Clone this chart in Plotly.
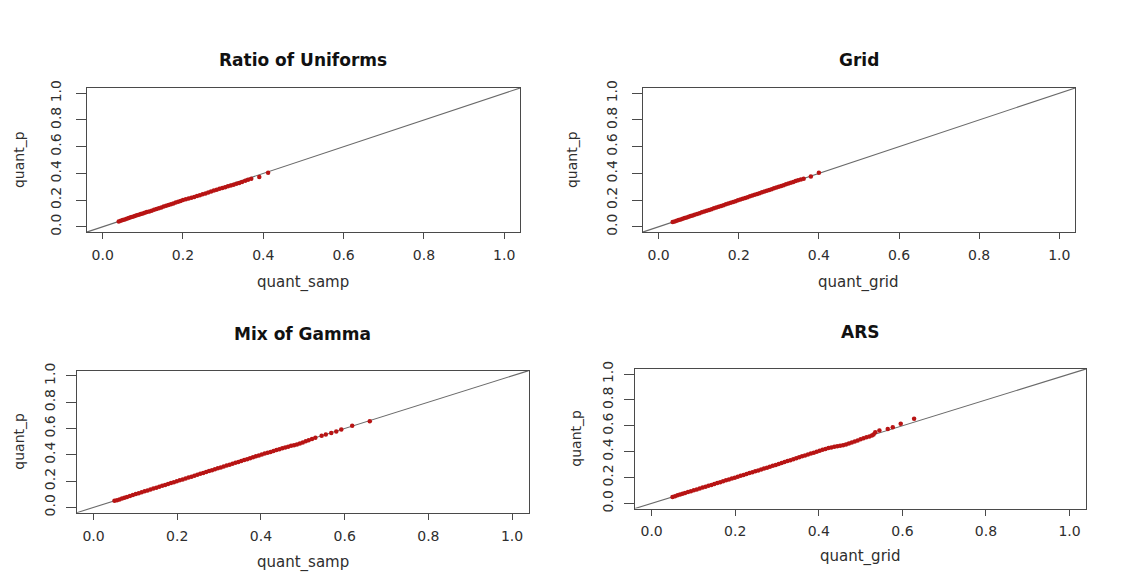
import plotly.graph_objects as go

# ---------------- data ----------------
titles = ["Ratio of Uniforms", "Grid", "Mix of Gamma", "ARS"]
xlabels = ["quant_samp", "quant_grid", "quant_samp", "quant_grid"]
ylabel = "quant_p"
tick_vals = [0.0, 0.2, 0.4, 0.6, 0.8, 1.0]

ru_x = [0.040, 0.045, 0.050, 0.055, 0.060, 0.065, 0.070, 0.075, 0.080, 0.085,
        0.090, 0.095, 0.100, 0.105, 0.110, 0.116, 0.122, 0.128, 0.134, 0.140,
        0.146, 0.152, 0.158, 0.164, 0.170, 0.176, 0.182, 0.188, 0.194, 0.200,
        0.207, 0.214, 0.221, 0.228, 0.235, 0.242, 0.249, 0.256, 0.263, 0.270,
        0.277, 0.284, 0.291, 0.298, 0.305, 0.312, 0.319, 0.326, 0.333, 0.340,
        0.347, 0.355, 0.362, 0.370, 0.390, 0.412]
ru_y = [0.040, 0.046, 0.050, 0.054, 0.060, 0.066, 0.071, 0.076, 0.081, 0.086,
        0.091, 0.096, 0.100, 0.105, 0.110, 0.115, 0.121, 0.127, 0.133, 0.139,
        0.145, 0.151, 0.157, 0.163, 0.169, 0.175, 0.181, 0.187, 0.193, 0.200,
        0.206, 0.212, 0.218, 0.224, 0.231, 0.237, 0.244, 0.250, 0.257, 0.264,
        0.271, 0.278, 0.284, 0.290, 0.297, 0.303, 0.309, 0.315, 0.322, 0.328,
        0.335, 0.345, 0.352, 0.360, 0.372, 0.405]

grid_x = [0.035, 0.040, 0.045, 0.050, 0.055, 0.060, 0.065, 0.070, 0.075, 0.080,
          0.085, 0.090, 0.096, 0.102, 0.108, 0.114, 0.120, 0.126, 0.132, 0.138,
          0.144, 0.150, 0.156, 0.162, 0.168, 0.174, 0.180, 0.186, 0.192, 0.198,
          0.204, 0.210, 0.216, 0.222, 0.228, 0.234, 0.240, 0.246, 0.252, 0.258,
          0.264, 0.270, 0.276, 0.282, 0.288, 0.294, 0.300, 0.306, 0.312, 0.318,
          0.324, 0.330, 0.336, 0.342, 0.348, 0.355, 0.362, 0.380, 0.400]
grid_y = [0.035, 0.040, 0.045, 0.050, 0.055, 0.060, 0.065, 0.070, 0.075, 0.080,
          0.085, 0.090, 0.096, 0.102, 0.108, 0.114, 0.120, 0.126, 0.132, 0.138,
          0.144, 0.150, 0.156, 0.162, 0.168, 0.174, 0.180, 0.186, 0.192, 0.198,
          0.204, 0.210, 0.216, 0.222, 0.228, 0.234, 0.240, 0.246, 0.252, 0.258,
          0.264, 0.270, 0.276, 0.282, 0.288, 0.294, 0.300, 0.306, 0.312, 0.318,
          0.324, 0.330, 0.336, 0.342, 0.348, 0.354, 0.360, 0.376, 0.405]

mg_x = [0.050, 0.056, 0.062, 0.068, 0.074, 0.080, 0.087, 0.094, 0.101, 0.108,
        0.115, 0.122, 0.129, 0.136, 0.143, 0.150, 0.157, 0.164, 0.171, 0.178,
        0.185, 0.192, 0.199, 0.206, 0.213, 0.220, 0.227, 0.234, 0.241, 0.248,
        0.255, 0.262, 0.269, 0.276, 0.283, 0.290, 0.297, 0.304, 0.311, 0.318,
        0.325, 0.332, 0.339, 0.346, 0.353, 0.360, 0.367, 0.374, 0.381, 0.388,
        0.395, 0.402, 0.409, 0.416, 0.423, 0.430, 0.437, 0.444, 0.451, 0.458,
        0.465, 0.472, 0.479, 0.486, 0.493, 0.500, 0.507, 0.514, 0.522, 0.530,
        0.545, 0.555, 0.568, 0.580, 0.592, 0.618, 0.660]
mg_y = [0.050, 0.055, 0.061, 0.067, 0.074, 0.080, 0.087, 0.094, 0.101, 0.108,
        0.115, 0.122, 0.129, 0.136, 0.143, 0.150, 0.157, 0.164, 0.171, 0.178,
        0.185, 0.192, 0.199, 0.206, 0.213, 0.220, 0.227, 0.234, 0.241, 0.248,
        0.255, 0.262, 0.269, 0.276, 0.283, 0.290, 0.297, 0.304, 0.311, 0.318,
        0.325, 0.332, 0.339, 0.346, 0.353, 0.360, 0.367, 0.374, 0.381, 0.388,
        0.395, 0.402, 0.409, 0.416, 0.422, 0.429, 0.436, 0.443, 0.450, 0.456,
        0.462, 0.468, 0.473, 0.478, 0.486, 0.494, 0.503, 0.511, 0.520, 0.529,
        0.544, 0.554, 0.565, 0.578, 0.593, 0.620, 0.655]

ars_x = [0.050, 0.056, 0.062, 0.068, 0.074, 0.080, 0.087, 0.094, 0.101, 0.108,
         0.115, 0.122, 0.129, 0.136, 0.143, 0.150, 0.157, 0.164, 0.171, 0.178,
         0.185, 0.192, 0.199, 0.206, 0.213, 0.220, 0.227, 0.234, 0.241, 0.248,
         0.255, 0.262, 0.269, 0.276, 0.283, 0.290, 0.297, 0.304, 0.311, 0.318,
         0.325, 0.332, 0.339, 0.346, 0.353, 0.360, 0.367, 0.374, 0.381, 0.388,
         0.395, 0.402, 0.409, 0.416, 0.423, 0.430, 0.437, 0.444, 0.451, 0.458,
         0.465, 0.472, 0.479, 0.486, 0.493, 0.500, 0.507, 0.514, 0.521, 0.527,
         0.531, 0.535, 0.545, 0.565, 0.577, 0.596, 0.628]
ars_y = [0.050, 0.056, 0.062, 0.068, 0.074, 0.080, 0.087, 0.094, 0.101, 0.108,
         0.115, 0.122, 0.129, 0.136, 0.143, 0.150, 0.157, 0.164, 0.171, 0.178,
         0.185, 0.192, 0.199, 0.206, 0.213, 0.220, 0.227, 0.234, 0.241, 0.248,
         0.255, 0.262, 0.269, 0.276, 0.283, 0.290, 0.297, 0.304, 0.312, 0.319,
         0.327, 0.334, 0.341, 0.348, 0.356, 0.364, 0.371, 0.378, 0.385, 0.392,
         0.399, 0.406, 0.414, 0.421, 0.428, 0.433, 0.437, 0.441, 0.445, 0.450,
         0.456, 0.463, 0.471, 0.479, 0.487, 0.495, 0.503, 0.511, 0.518, 0.525,
         0.532, 0.550, 0.563, 0.575, 0.588, 0.615, 0.655]

panel_x = [ru_x, grid_x, mg_x, ars_x]
panel_y = [ru_y, grid_y, mg_y, ars_y]
diag = [-0.04, 1.04]

# ---------------- layout constants ----------------
OFF = 8                      # default page margin of the html body
W, H = 1139 - OFF, 575 - OFF
# plot boxes in page pixels: (left, right, top, bottom)
boxes = [(86.6, 520.3, 81.5, 228.8),
         (642.6, 1075.3, 81.5, 228.8),
         (76.8, 528.8, 370.3, 515.4),
         (634.9, 1086.3, 368.5, 511.2)]
title_y = [53.3, 53.3, 332.7, 330.7]
xlab_y = [280, 280, 566.7, 560]
ylab_x = [19, 572, 19, 576]


def px(v):
    return (v - OFF) / W


def py(v):
    return 1 - (v - OFF) / H


FONT = "DejaVu Sans, Liberation Sans, Arial, sans-serif"
PT_COLOR = "#b81414"
AX_COLOR = "#4a4a4a"
TXT = "#2e2e2e"

fig = go.Figure()
annotations = []
for i in range(4):
    l, r, t, b = boxes[i]
    xa = "x" if i == 0 else f"x{i+1}"
    ya = "y" if i == 0 else f"y{i+1}"
    fig.add_trace(go.Scatter(x=diag, y=diag, mode="lines",
                             line=dict(color="#6a6a6a", width=1.1),
                             xaxis=xa, yaxis=ya, hoverinfo="skip"))
    fig.add_trace(go.Scatter(x=panel_x[i], y=panel_y[i], mode="markers",
                             marker=dict(color=PT_COLOR, size=4.5, line=dict(width=0)),
                             xaxis=xa, yaxis=ya))
    axkey = "" if i == 0 else str(i + 1)
    fig.layout["xaxis" + axkey] = dict(
        domain=[px(l), px(r)], anchor=ya, range=[-0.04, 1.04],
        tickvals=tick_vals, tickformat=".1f", ticks="outside", ticklen=6,
        tickwidth=1, tickcolor=AX_COLOR, showline=True, mirror=True,
        linecolor=AX_COLOR, linewidth=1.2, showgrid=False, zeroline=False,
        tickfont=dict(family=FONT, size=14, color=TXT), ticklabelstandoff=4)
    fig.layout["yaxis" + axkey] = dict(
        domain=[py(b), py(t)], anchor=xa, range=[-0.04, 1.04],
        tickvals=tick_vals, tickformat=".1f", ticks="outside", ticklen=10,
        tickwidth=1, tickcolor=AX_COLOR, showline=True, mirror=True,
        linecolor=AX_COLOR, linewidth=1.2, showgrid=False, zeroline=False,
        tickangle=-90, tickfont=dict(family=FONT, size=14, color=TXT),
        ticklabelstandoff=9 if i < 2 else 5)
    cx = px((l + r) / 2)
    annotations.append(dict(text=f"<b>{titles[i]}</b>", x=cx, y=py(title_y[i]),
                            xref="paper", yref="paper", showarrow=False,
                            xanchor="center", yanchor="middle",
                            font=dict(family=FONT, size=17, color="#111111")))
    annotations.append(dict(text=xlabels[i], x=cx, y=py(xlab_y[i]),
                            xref="paper", yref="paper", showarrow=False,
                            xanchor="center", yanchor="middle",
                            font=dict(family=FONT, size=15, color=TXT)))
    annotations.append(dict(text=ylabel, x=px(ylab_x[i]), y=py((t + b) / 2),
                            xref="paper", yref="paper", showarrow=False,
                            xanchor="center", yanchor="middle", textangle=-90,
                            font=dict(family=FONT, size=14, color=TXT)))

fig.update_layout(width=W, height=H, margin=dict(l=0, r=0, t=0, b=0),
                  paper_bgcolor="white", plot_bgcolor="white",
                  showlegend=False, annotations=annotations)
fig.write_html("out.html")
